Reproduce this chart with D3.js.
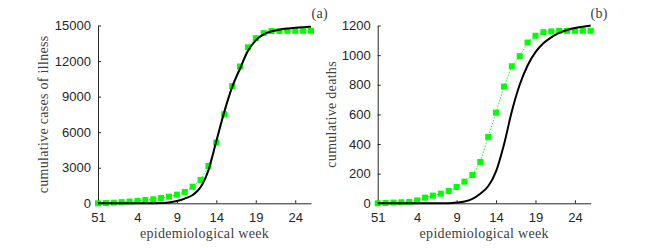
<!DOCTYPE html>
<html>
<head>
<meta charset="utf-8">
<script src="https://cdn.jsdelivr.net/npm/d3@7"></script>
<style>
  body { margin: 0; background: #fff; }
  .tick text { font-family: "Liberation Sans", Arial, sans-serif; font-size: 13px; fill: #262626; }
  .lbl { font-family: "Liberation Serif", "Times New Roman", serif; font-size: 14px; letter-spacing: 0.3px; fill: #404040; }
</style>
</head>
<body>
<svg id="chart" width="661" height="248"></svg>
<script>
// epidemiological weeks shown on the x axis (index 0 = week 51)
const weeks = [51, 52, 1, 2, 3, 4, 5, 6, 7, 8, 9, 10, 11, 12, 13, 14, 15, 16, 17, 18, 19, 20, 21, 22, 23, 24, 25, 26];
const weekTicks = [51, 4, 9, 14, 19, 24];

// panel (a): cumulative cases of illness
const casesObserved = [0, 20, 50, 100, 150, 200, 280, 340, 450, 560, 730, 960, 1400, 1970, 3150, 5120,
  7510, 9880, 11540, 13160, 13930, 14360, 14530, 14540, 14550, 14550, 14550, 14550];
const casesModel = [0, 0, 0, 0, 0, 1, 3, 8, 25, 70, 190, 400, 700, 1350, 2800, 5250,
  7700, 9800, 11350, 12850, 13750, 14250, 14520, 14650, 14740, 14810, 14860, 14900];
const casesTicks = [0, 3000, 6000, 9000, 12000, 15000];

// panel (b): cumulative deaths
const deathsObserved = [0, 2, 5, 7, 9, 20, 38, 52, 65, 83, 110, 146, 191, 279, 448, 612,
  788, 925, 993, 1085, 1131, 1155, 1160, 1164, 1164, 1164, 1164, 1164];
const deathsModel = [0, 0, 0, 0, 0, 0, 0, 0, 0, 1, 5, 12, 30, 65, 115, 215,
  395, 620, 800, 930, 1020, 1080, 1120, 1150, 1170, 1183, 1192, 1200];
const deathsTicks = [0, 200, 400, 600, 800, 1000, 1200];

const svg = d3.select('#chart');

const panels = [
  {left: 98, right: 311, observed: casesObserved, model: casesModel, yMax: 15000, yTicks: casesTicks,
    ylabel: 'cumulative cases of illness', ylabelX: 47.5, tag: '(a)', tagX: 311.5},
  {left: 377.7, right: 590.7, observed: deathsObserved, model: deathsModel, yMax: 1200, yTicks: deathsTicks,
    ylabel: 'cumulative deaths', ylabelX: 336, tag: '(b)', tagX: 590.5}
];

const plotTop = 25.5, plotBottom = 203.3;

panels.forEach(p => {
  const x = d3.scaleLinear().domain([0, weeks.length - 1]).range([p.left, p.right]);
  const y = d3.scaleLinear().domain([0, p.yMax]).range([plotBottom, plotTop]);
  const g = svg.append('g');

  const xAxis = d3.axisBottom(x)
    .tickValues(weekTicks.map(w => weeks.indexOf(w)))
    .tickFormat(i => weeks[i])
    .tickSizeInner(-3)
    .tickSizeOuter(0)
    .tickPadding(9);
  const yAxis = d3.axisLeft(y)
    .tickValues(p.yTicks)
    .tickFormat(d3.format('d'))
    .tickSizeInner(-3)
    .tickSizeOuter(0)
    .tickPadding(7);

  g.append('g')
    .attr('transform', `translate(0,${plotBottom})`)
    .call(xAxis)
    .call(a => a.selectAll('path, line').attr('stroke', '#262626'));
  g.append('g')
    .attr('transform', `translate(${p.left},0)`)
    .call(yAxis)
    .call(a => a.selectAll('path, line').attr('stroke', '#262626'));

  // observed data: green dotted line with squares
  const line = d3.line()
    .x((d, i) => x(i))
    .y(d => y(d));
  g.append('path')
    .attr('d', line(p.observed))
    .attr('fill', 'none')
    .attr('stroke', '#00ff00')
    .attr('stroke-width', 1)
    .attr('stroke-dasharray', '1.5,1.5');
  g.selectAll('.sq')
    .data(p.observed)
    .enter().append('rect')
    .attr('class', 'sq')
    .attr('x', (d, i) => x(i) - 3)
    .attr('y', d => y(d) - 3)
    .attr('width', 6)
    .attr('height', 6)
    .attr('fill', '#00ff00');

  // model curve
  const curve = d3.line()
    .curve(d3.curveMonotoneX)
    .x((d, i) => x(i))
    .y(d => y(d));
  g.append('path')
    .attr('d', curve(p.model))
    .attr('fill', 'none')
    .attr('stroke', '#000')
    .attr('stroke-width', 2);

  g.append('text')
    .attr('class', 'lbl')
    .attr('x', (p.left + p.right) / 2)
    .attr('y', 237.5)
    .attr('text-anchor', 'middle')
    .text('epidemiological week');

  g.append('text')
    .attr('class', 'lbl')
    .attr('transform', `translate(${p.ylabelX},${(plotTop + plotBottom) / 2}) rotate(-90)`)
    .attr('text-anchor', 'middle')
    .text(p.ylabel);

  g.append('text')
    .attr('class', 'lbl')
    .attr('x', p.tagX)
    .attr('y', 18)
    .text(p.tag);
});
</script>
</body>
</html>
